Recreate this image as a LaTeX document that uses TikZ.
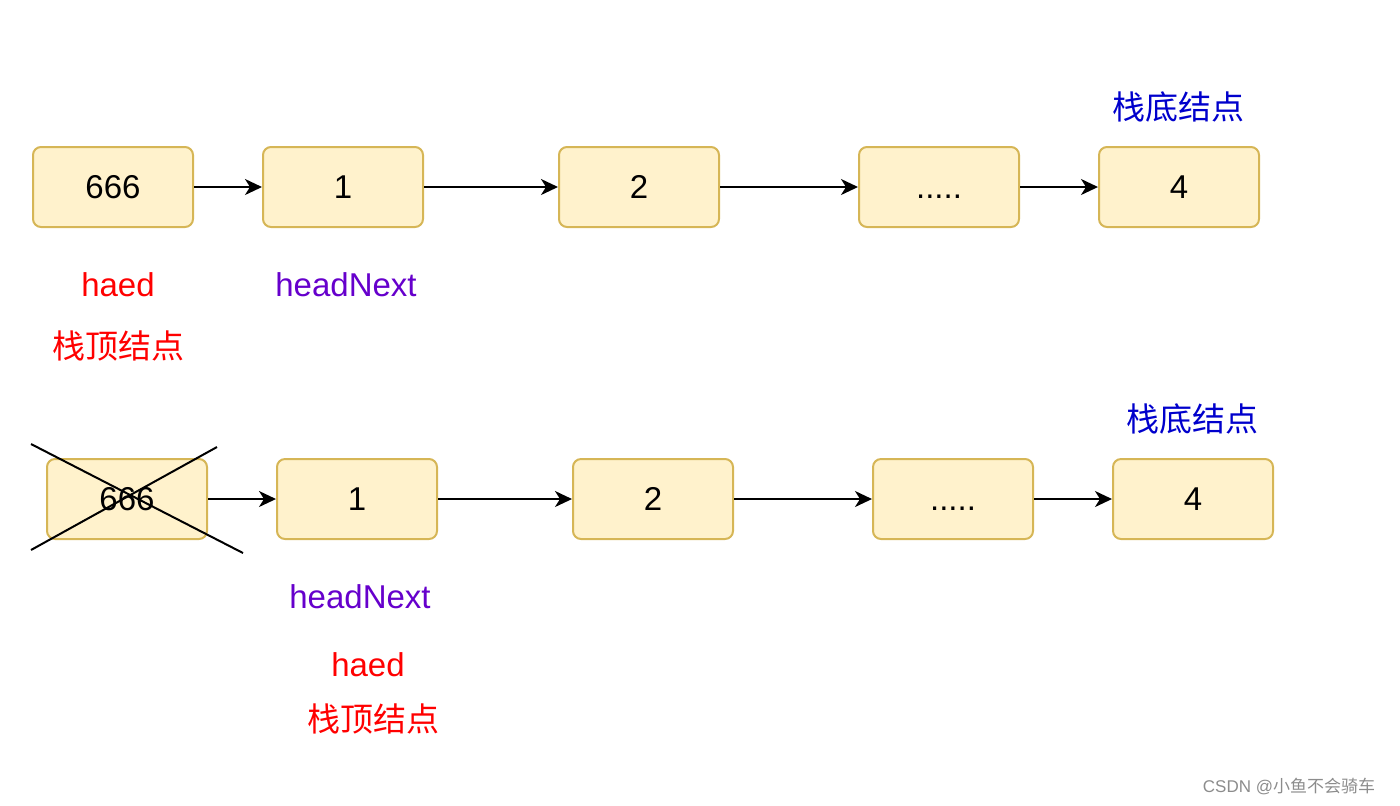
\documentclass[tikz,border=0pt]{standalone}
\usepackage{fontspec}
\setmainfont{Liberation Sans}
\newfontfamily\cjk{Noto Sans CJK SC}
\usepackage{tikz}
\usetikzlibrary{arrows.meta}
\definecolor{boxfill}{HTML}{FFF2CC}
\definecolor{boxline}{HTML}{D6B656}
\definecolor{topred}{HTML}{FF0000}
\definecolor{nextpurple}{HTML}{6600CC}
\definecolor{botblue}{HTML}{0000CC}

\begin{document}
\begin{tikzpicture}[x=0.5pt,y=-0.5pt,>={Stealth[length=8.5pt,width=8pt,inset=2.5pt]},semithick,
  every node/.style={font=\fontsize{16.5}{18}\selectfont}]
  \tikzstyle{cell}=[draw=boxline,fill=boxfill,line width=1pt,rounded corners=4pt,minimum width=80pt,minimum height=40pt,inner sep=0pt,text height=11.8pt,text depth=0pt]
  \tikzstyle{link}=[->,line width=1pt]
  \useasboundingbox (0,0) rectangle (1400,805);
  % first row
  \node [cell] (n0) at (113,187) {666};
  \node [cell] (n1) at (343,187) {1};
  \node [cell] (n2) at (639,187) {2};
  \node [cell] (n3) at (939,187) {.....};
  \node [cell] (n4) at (1179,187) {4};
  \draw [link] (n0) -- (n1);
  \draw [link] (n1) -- (n2);
  \draw [link] (n2) -- (n3);
  \draw [link] (n3) -- (n4);
  \node [text=topred] (t0) at (118,285) {haed};
  \node [text=topred] (t1) at (118,346) {\cjk 栈顶结点};
  \node [text=nextpurple] (t2) at (346,285) {headNext};
  \node [text=botblue] (t3) at (1178,107) {\cjk 栈底结点};
  % second row
  \node [cell] (m0) at (127,499) {666};
  \node [cell] (m1) at (357,499) {1};
  \node [cell] (m2) at (653,499) {2};
  \node [cell] (m3) at (953,499) {.....};
  \node [cell] (m4) at (1193,499) {4};
  \draw [link] (m0) -- (m1);
  \draw [link] (m1) -- (m2);
  \draw [link] (m2) -- (m3);
  \draw [link] (m3) -- (m4);
  \coordinate (c1) at (31,444);
  \coordinate (c2) at (243,553);
  \coordinate (c3) at (31,550);
  \coordinate (c4) at (217,447);
  \draw [line width=1pt] (c1) -- (c2);
  \draw [line width=1pt] (c3) -- (c4);
  \node [text=botblue] (b3) at (1192,419) {\cjk 栈底结点};
  \node [text=nextpurple] (b2) at (360,597) {headNext};
  \node [text=topred] (b0) at (368,665) {haed};
  \node [text=topred] (b1) at (373,719) {\cjk 栈顶结点};
  \node [text=black!45,font=\fontsize{8.5}{10}\selectfont] (wm) at (1289,786) {CSDN @{\cjk 小鱼不会骑车}};
\end{tikzpicture}
\end{document}
